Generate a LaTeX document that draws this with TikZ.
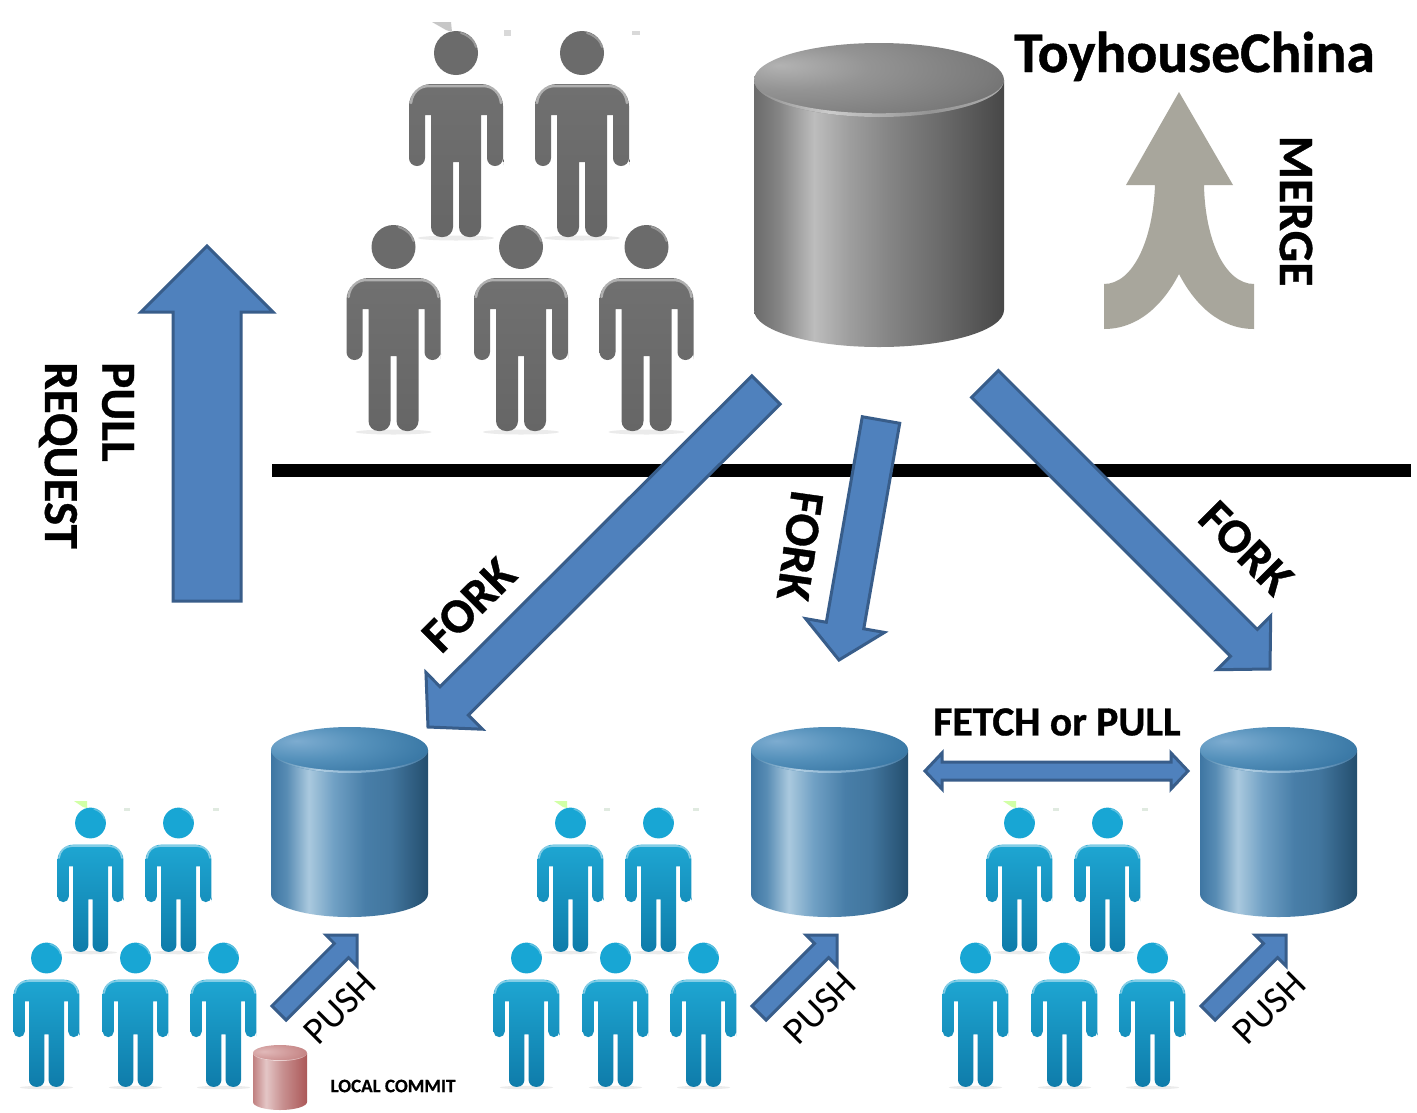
\documentclass[tikz,border=0pt]{standalone}
\usepackage{fontspec}
\setmainfont{Carlito}[BoldFeatures={FakeBold=0.7}]
\usetikzlibrary{calc}

\definecolor{arrowfill}{HTML}{4F81BD}
\definecolor{arrowline}{HTML}{385D8A}
\definecolor{mergefill}{HTML}{A8A69C}

\pgfdeclarehorizontalshading{cylgrey}{100bp}{color(0bp)=(black!58);color(25bp)=(black!58);color(30bp)=(black!48);color(37bp)=(black!26);color(44bp)=(black!38);color(52bp)=(black!48);color(62bp)=(black!58);color(75bp)=(black!72);color(100bp)=(black!72)}
\pgfdeclarehorizontalshading{lipgrey}{100bp}{color(0bp)=(black!45);color(25bp)=(black!45);color(40bp)=(black!20);color(60bp)=(black!42);color(75bp)=(black!32);color(100bp)=(black!32)}
\pgfdeclareradialshading{topgrey}{\pgfpoint{-20bp}{10bp}}{color(0bp)=(black!30);color(15bp)=(black!42);color(35bp)=(black!52);color(55bp)=(black!66);color(100bp)=(black!70)}

\pgfdeclarehorizontalshading{cylblue}{100bp}{color(0bp)=(rgb,255:red,62;green,118;blue,163);color(25bp)=(rgb,255:red,62;green,118;blue,163);color(30bp)=(rgb,255:red,88;green,140;blue,180);color(37bp)=(rgb,255:red,170;green,201;blue,222);color(45bp)=(rgb,255:red,112;green,160;blue,196);color(55bp)=(rgb,255:red,72;green,126;blue,168);color(63bp)=(rgb,255:red,66;green,118;blue,158);color(75bp)=(rgb,255:red,36;green,78;blue,110);color(100bp)=(rgb,255:red,36;green,78;blue,110)}
\pgfdeclarehorizontalshading{lipblue}{100bp}{color(0bp)=(rgb,255:red,80;green,135;blue,175);color(25bp)=(rgb,255:red,80;green,135;blue,175);color(40bp)=(rgb,255:red,175;green,205;blue,226);color(60bp)=(rgb,255:red,115;green,162;blue,198);color(75bp)=(rgb,255:red,70;green,120;blue,160);color(100bp)=(rgb,255:red,70;green,120;blue,160)}
\pgfdeclareradialshading{topblue}{\pgfpoint{-17bp}{10bp}}{color(0bp)=(rgb,255:red,125;green,172;blue,208);color(18bp)=(rgb,255:red,85;green,145;blue,187);color(35bp)=(rgb,255:red,60;green,122;blue,167);color(55bp)=(rgb,255:red,42;green,95;blue,135);color(100bp)=(rgb,255:red,42;green,95;blue,135)}

\pgfdeclarehorizontalshading{cylred}{100bp}{color(0bp)=(rgb,255:red,192;green,128;blue,128);color(25bp)=(rgb,255:red,192;green,128;blue,128);color(37bp)=(rgb,255:red,228;green,198;blue,198);color(52bp)=(rgb,255:red,200;green,145;blue,145);color(75bp)=(rgb,255:red,172;green,88;blue,88);color(100bp)=(rgb,255:red,172;green,88;blue,88)}
\pgfdeclarehorizontalshading{lipred}{100bp}{color(0bp)=(rgb,255:red,225;green,190;blue,190);color(25bp)=(rgb,255:red,225;green,190;blue,190);color(40bp)=(rgb,255:red,242;green,225;blue,225);color(75bp)=(rgb,255:red,215;green,170;blue,170);color(100bp)=(rgb,255:red,215;green,170;blue,170)}
\pgfdeclareradialshading{topred}{\pgfpoint{-15bp}{5bp}}{color(0bp)=(rgb,255:red,225;green,185;blue,185);color(50bp)=(rgb,255:red,185;green,110;blue,110);color(100bp)=(rgb,255:red,185;green,110;blue,110)}

\newcommand{\blockarrow}[5]{%
   \coordinate (hb) at ($(#2)!#4pt!(#1)$);
   \draw[blockline] ($(#1)!#3pt!90:(#2)$) -- ($(hb)!#3pt!90:(#2)$) -- ($(hb)!#5pt!90:(#2)$) -- (#2)
      -- ($(hb)!#5pt!-90:(#2)$) -- ($(hb)!#3pt!-90:(#2)$) -- ($(#1)!#3pt!-90:(#2)$) -- cycle;
}
\newcommand{\doublearrow}[5]{%
   \coordinate (ha) at ($(#1)!#4pt!(#2)$);
   \coordinate (hb) at ($(#2)!#4pt!(#1)$);
   \draw[blockline] (#1) -- ($(ha)!#5pt!90:(#2)$) -- ($(ha)!#3pt!90:(#2)$) -- ($(hb)!#3pt!-90:(#1)$) -- ($(hb)!#5pt!-90:(#1)$) -- (#2)
      -- ($(hb)!#5pt!90:(#1)$) -- ($(hb)!#3pt!90:(#1)$) -- ($(ha)!#3pt!-90:(#2)$) -- ($(ha)!#5pt!-90:(#2)$) -- cycle;
}

\tikzset{
   blockline/.style={fill=arrowfill,draw=arrowline,line width=3pt,line join=miter},
   greybody/.style={top color=black!56,bottom color=black!60},
   bluebody/.style={top color={rgb,255:red,30;green,166;blue,210},bottom color={rgb,255:red,15;green,124;blue,170}},
   greyhead/.style={fill=black!58},
   bluehead/.style={fill={rgb,255:red,24;green,166;blue,212}},
   boldlabel/.style={font=\bfseries\fontsize{#1}{#1}\selectfont,inner sep=0pt,align=left},
   pluslabel/.style={font=\fontsize{#1}{#1}\selectfont,inner sep=0pt},
   pics/dbcyl/.style n args={4}{code={
      \shade[shading=cyl#4] (-#1,0) -- (#1,0) -- (#1,#3) arc[start angle=0,end angle=180,x radius=#1,y radius=#2] -- cycle;
      \shade[shading=top#4] (0,0) ellipse[x radius=#1,y radius=#2];
      \shade[shading=lip#4] (-#1,0) arc[start angle=180,end angle=0,x radius=#1,y radius=#2]
         arc[start angle=0,end angle=180,x radius=#1,y radius={#2-0.1*#2}] -- cycle;
   }},
   pics/person/.style n args={3}{code={
      \fill[black,opacity=.08] (0,185) ellipse[x radius=38,y radius=2.5];
      \fill[#3] (0,0) circle (22);
      \shade[#2,rounded corners=#1*22pt] (-47,90) -- (-47,31) -- (47,31) -- (47,90) [rounded corners=#1*7.9pt] -- (47,113) -- (31,113)
         [sharp corners] -- (31,62) -- (25,62) [rounded corners=#1*10pt] -- (25,184) -- (3,184) [sharp corners] -- (3,109) -- (-3,109)
         [rounded corners=#1*10pt] -- (-3,184) -- (-25,184) [sharp corners] -- (-25,62) -- (-31,62) [rounded corners=#1*7.9pt] -- (-31,113)
         -- (-47,113) [sharp corners] -- cycle;
      \draw[white,opacity=.45,line width=#1*2.5pt,line cap=round] (-45,50) .. controls (-44,40) and (-37,33) .. (-27,33) -- (27,33) .. controls (37,33) and (44,40) .. (45,50);
      \draw[white,opacity=.3,line width=#1*2pt,line cap=round] (5,-20) .. controls (12,-18) and (19,-12) .. (20,-6);
   }},
}

\begin{document}
\begin{tikzpicture}[x=1pt,y=-1pt]
   \useasboundingbox[fill=white] (0,0) rectangle (1417,1112);

   % upstream team
   \foreach \px/\py/\pn in {456/53/ga,582/53/gb,393.5/247/gc,521/247/gd,646.5/247/ge}
      \pic (\pn) at (\px,\py) {person={1}{greybody}{greyhead}};
   \fill[black!22] (432,22) -- (451,22) -- (452,32) -- (446,30) -- cycle;
   \fill[black!15] (504,30) rectangle (511,36);
   \fill[black!15] (632,31) rectangle (640,35);

   % fork teams
   \foreach \gx/\gn in {0/a,480/b,929/c}{
      \begin{scope}[shift={(\gx,0)}]
         \foreach \px/\py/\pn in {90.5/823/1,178.5/823/2,46.5/958/3,135.5/958/4,223.5/958/5}
            \pic[scale=.7] (p\gn\pn) at (\px,\py) {person={.7}{bluebody}{bluehead}};
         \fill[green!50!yellow!35] (74,801) -- (87,801) -- (87,808) -- (83,807) -- cycle;
         \fill[green!30!black!12] (124,808) rectangle (130,811);
         \fill[green!30!black!12] (213,808) rectangle (219,811);
      \end{scope}
   }

   % main line
   \coordinate (linel) at (272,470);
   \coordinate (liner) at (1411,470);
   \draw[line width=13pt] (linel) -- (liner);

   % repositories
   \pic (hub) at (879,80) {dbcyl={125}{37}{230}{grey}};
   \pic (forka) at (349.5,750) {dbcyl={78.5}{23}{144}{blue}};
   \pic (forkb) at (829.5,750) {dbcyl={78.5}{23}{144}{blue}};
   \pic (forkc) at (1278.5,750) {dbcyl={78.5}{23}{144}{blue}};
   \pic (localdb) at (280,1053) {dbcyl={27}{8}{49}{red}};

   % pull request arrow
   \coordinate (pra) at (207,601);
   \coordinate (prb) at (207,246);
   \blockarrow{pra}{prb}{34}{66}{66}

   % fork arrows
   \coordinate (fa) at (766,390);
   \coordinate (fb) at (428,727);
   \blockarrow{fa}{fb}{20}{37}{40}
   \coordinate (fc) at (881,420);
   \coordinate (fd) at (839,660);
   \blockarrow{fc}{fd}{19}{35}{40}
   \coordinate (fe) at (985,384);
   \coordinate (ff) at (1270,669);
   \blockarrow{fe}{ff}{19}{37}{38}

   % push arrows
   \foreach \gx/\gn in {0/a,480/b,929/c}{
      \coordinate (ps\gn) at (279+\gx,1013);
      \coordinate (pt\gn) at (357+\gx,935);
      \blockarrow{ps\gn}{pt\gn}{10}{22}{22}
      \node[pluslabel=38,rotate=45] (push\gn) at (340+\gx,1008) {PUSH};
   }

   % fetch arrow
   \coordinate (fta) at (925,771);
   \coordinate (ftb) at (1188,771);
   \doublearrow{fta}{ftb}{9}{17}{18}

   % merge arrow
   \fill[mergefill] (1179,92) -- (1233,185) -- (1204,185) .. controls (1205,240) and (1225,284) .. (1254,284) -- (1254,329)
      .. controls (1220,329) and (1195,305) .. (1179,274) .. controls (1163,305) and (1138,329) .. (1104,329) -- (1104,284)
      .. controls (1133,284) and (1153,240) .. (1155,185) -- (1126,185) -- cycle;

   % labels
   \node[boldlabel=57.5,anchor=base west] (title) at (1014,72) {ToyhouseChina};
   \node[boldlabel=49.5,rotate=-90] (merge) at (1296,211) {MERGE};
   \node[boldlabel=49,rotate=-90,anchor=west] (pull) at (118,362) {PULL};
   \node[boldlabel=49,rotate=-90,anchor=west] (request) at (58,362) {REQUEST};
   \node[boldlabel=49,rotate=45] (forklbla) at (469,605) {FORK};
   \node[boldlabel=49,rotate=-98] (forklblb) at (800,546) {FORK};
   \node[boldlabel=49,rotate=-45] (forklblc) at (1246,548) {FORK};
   \node[boldlabel=41.5] (fetchlbl) at (1057,722) {FETCH or PULL};
   \node[boldlabel=19] (locallbl) at (393,1086) {LOCAL COMMIT};
\end{tikzpicture}
\end{document}
